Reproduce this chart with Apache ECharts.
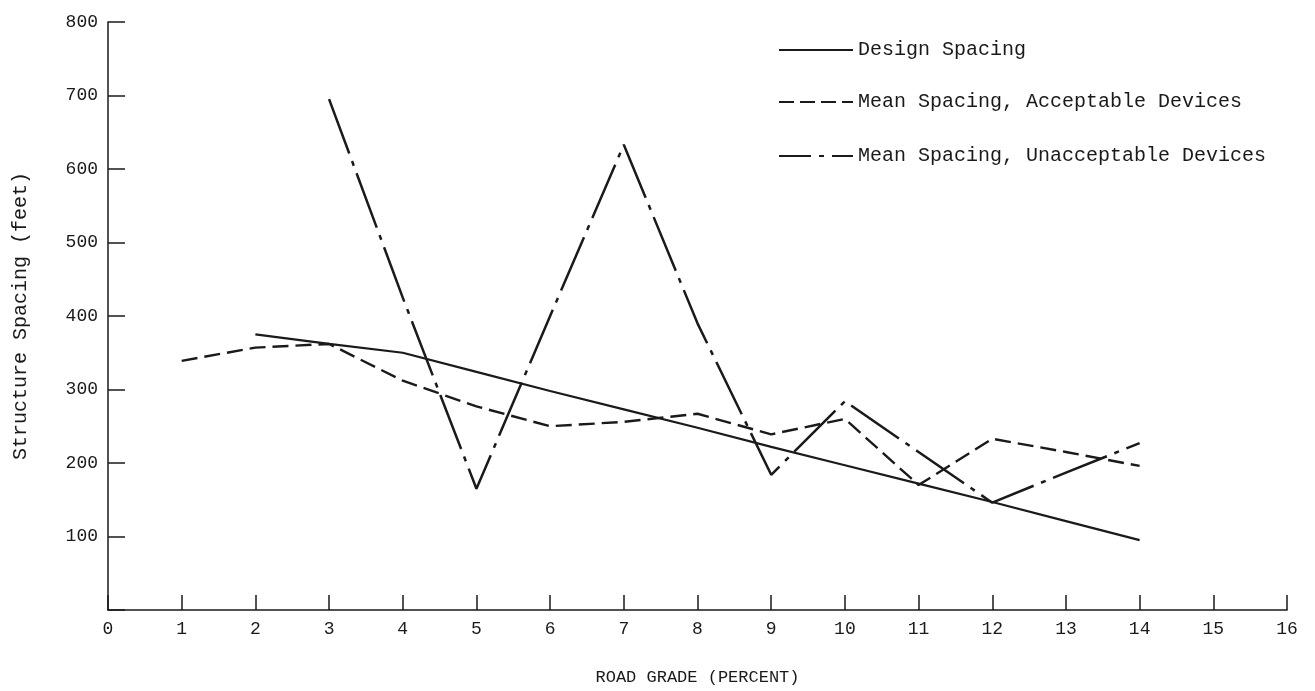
<!DOCTYPE html>
<html>
<head>
<meta charset="utf-8">
<script src="https://cdn.jsdelivr.net/npm/echarts@6/dist/echarts.min.js"></script>
<style>
html,body{margin:0;padding:0;background:#fff;}
#chart{width:1315px;height:691px;}
</style>
</head>
<body>
<div id="chart"></div>
<script>
// Road grade (percent)
const grades = [1, 2, 3, 4, 5, 6, 7, 8, 9, 10, 11, 12, 13, 14];
// Structure spacing (feet)
const designSpacing = [null, 375, 362, 350, 324, 298, 273, 248, 222, 197, 172, 147, 121, 95];
const meanAcceptable = [339, 357, 362, 312, 277, 250, 256, 267, 239, 260, 170, 233, 215, 196];
const meanUnacceptable = [null, null, 695, 425, 165, 400, 633, 390, 184, 284, 215, 146, 187, 227];
const seriesNames = ['Design Spacing', 'Mean Spacing, Acceptable Devices', 'Mean Spacing, Unacceptable Devices'];

function pairs(vals) {
  const out = [];
  grades.forEach((g, i) => { if (vals[i] !== null) out.push([g, vals[i]]); });
  return out;
}

const FONT = 'Liberation Mono';
const INK = '#1a1a1a';

const chart = echarts.init(document.getElementById('chart'), null, { renderer: 'canvas' });

function legendAt(name, top, lineType) {
  const lg = {
    data: [name],
    left: 773,
    top: top,
    itemWidth: 74,
    itemHeight: 14,
    itemGap: 6,
    selectedMode: false,
    itemStyle: { opacity: 0 },
    textStyle: { fontFamily: FONT, fontSize: 20, color: INK, padding: [0, 0, 0, 0] }
  };
  if (lineType) lg.lineStyle = { type: lineType };
  return lg;
}

chart.setOption({
  backgroundColor: '#ffffff',
  animation: false,
  grid: { left: 108, right: 28, top: 22, bottom: 77 },
  legend: [
    legendAt(seriesNames[0], 35),
    legendAt(seriesNames[1], 87, [15, 6]),
    legendAt(seriesNames[2], 141, [32, 8, 5, 8])
  ],
  xAxis: {
    type: 'value',
    min: 0, max: 16, interval: 1,
    name: 'ROAD GRADE (PERCENT)',
    nameLocation: 'middle',
    nameGap: 59,
    nameTextStyle: { fontFamily: FONT, fontSize: 17, color: INK },
    axisLine: { show: true, lineStyle: { color: INK, width: 1.5 } },
    axisTick: { show: true, inside: true, length: 15, lineStyle: { color: INK, width: 1.5 } },
    axisLabel: { fontFamily: FONT, fontSize: 18, color: INK, margin: 10 },
    splitLine: { show: false }
  },
  yAxis: {
    type: 'value',
    min: 0, max: 800, interval: 100,
    name: 'Structure Spacing (feet)',
    nameLocation: 'middle',
    nameRotate: 90,
    nameGap: 77,
    nameTextStyle: { fontFamily: FONT, fontSize: 20, color: INK },
    axisLine: { show: true, lineStyle: { color: INK, width: 1.5 } },
    axisTick: { show: true, inside: true, length: 17, lineStyle: { color: INK, width: 1.5 } },
    axisLabel: {
      fontFamily: FONT, fontSize: 18, color: INK, margin: 10,
      formatter: v => (v === 0 ? '' : String(v))
    },
    splitLine: { show: false }
  },
  series: [
    {
      name: seriesNames[0], type: 'line', data: pairs(designSpacing),
      symbol: 'none', lineStyle: { color: INK, width: 2.2, type: 'solid' },
      itemStyle: { color: INK }
    },
    {
      name: seriesNames[1], type: 'line', data: pairs(meanAcceptable),
      symbol: 'none', lineStyle: { color: INK, width: 2.4, type: [16, 7] },
      itemStyle: { color: INK }
    },
    {
      name: seriesNames[2], type: 'line', data: pairs(meanUnacceptable),
      symbol: 'none', lineStyle: { color: INK, width: 2.5, type: [58, 8, 5, 8] },
      itemStyle: { color: INK }
    }
  ]
});
</script>
</body>
</html>
